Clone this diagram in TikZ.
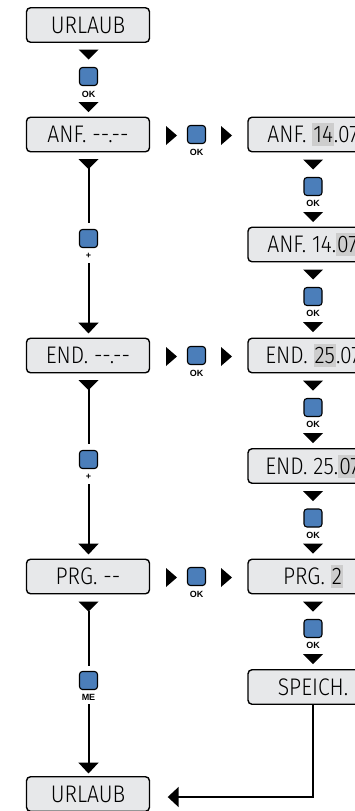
\documentclass[tikz,border=0pt]{standalone}
\usepackage{fontspec}
\newfontfamily\lcdfont{Fira Sans Light}[FakeStretch=0.88]
\newfontfamily\btnfont{Liberation Sans}
\usetikzlibrary{calc,arrows.meta}
\definecolor{lcdgray}{HTML}{E7E8EA}
\definecolor{hlgray}{HTML}{CDCDCD}
\definecolor{btnblue}{HTML}{4B7EBA}
\newcommand\hlt[1]{{\setlength{\fboxsep}{0pt}\colorbox{hlgray}{\rule[-3.5pt]{0pt}{23pt}\kern1pt#1\kern1pt}}}
\begin{document}
\begin{tikzpicture}[x=1pt,y=-1pt,
  lcd/.style={draw=black, line width=1.4pt, fill=lcdgray, rounded corners=4pt,
    minimum width=123pt, minimum height=34.5pt, inner sep=0pt,
    font=\lcdfont\fontsize{24}{24}\selectfont},
  lcdr/.style={lcd, minimum width=130pt},
  btn/.style={draw=black, line width=1.1pt, fill=btnblue, rounded corners=3pt,
    minimum size=18pt, inner sep=0pt},
  btnlbl/.style={font=\btnfont\bfseries\fontsize{9}{9}\selectfont, inner sep=0pt},
  flow/.style={line width=2pt},
  flowarrow/.style={line width=2pt, -{Triangle[width=20pt,length=11pt]}},
  tridown/.pic={\fill (-10,0) -- (10,0) -- (0,10) -- cycle;},
  triright/.pic={\fill (0,-9.5) -- (11,0) -- (0,9.5) -- cycle;},
]
\useasboundingbox (0,0) rectangle (355,811);
\clip (0,0) rectangle (355,811);

% ---------- left column ----------
\node[lcd] (u1) at (88,25) {URLAUB};
\pic at (88.5,49.5) {tridown};
\node[btn] (b1) at (88.5,76.5) {};
\node[btnlbl] (l1) at (88.5,94) {OK};
\pic at (88.5,102) {tridown};

\node[lcd] (anf) at (88,134.5) {ANF. --.--};
\pic at (88.5,159) {tridown};
\node[btn] (b2) at (88.5,238.5) {};
\node[btnlbl] (l2) at (88.5,255.5) {+};
\coordinate (t2) at (88.5,168);
\draw[flow] (t2) -- (b2.north |- 0,223);
\draw[flowarrow] (b2.south |- 0,263) -- (b2.south |- 0,333.5);

\node[lcd] (endl) at (88,355.5) {END. --.--};
\pic at (88.5,380) {tridown};
\node[btn] (b3) at (88.5,459.5) {};
\node[btnlbl] (l3) at (88.5,476.5) {+};
\coordinate (t3) at (88.5,389);
\draw[flow] (t3) -- (b3.north |- 0,444);
\draw[flowarrow] (b3.south |- 0,484) -- (b3.south |- 0,554.5);

\node[lcd] (prg) at (88,576.5) {PRG. --};
\pic at (88.5,601.5) {tridown};
\node[btn] (b4) at (88.5,680.5) {};
\node[btnlbl] (l4) at (88.5,697.5) {ME};
\coordinate (t4) at (88.5,611);
\draw[flow] (t4) -- (b4.north |- 0,666);
\draw[flowarrow] (b4.south |- 0,704) -- (b4.south |- 0,773.5);

\node[lcd] (u2) at (88,794) {URLAUB};

% ---------- horizontal rows ----------
\foreach \r/\n in {134.5/a, 355.5/b, 576.5/c}{
  \pic at (166,\r+1) {triright};
  \node[btn] (h\n) at (196.5,\r) {};
  \node[btnlbl] (hl\n) at (196.5,\r+18) {OK};
  \pic at (221,\r+1) {triright};
}

% ---------- right column ----------
\node[lcdr] (r1) at (313,134.5) {ANF. \hlt{14}.07};
\node[lcdr] (r2) at (313,244.5) {ANF. 14.\hlt{07}};
\node[lcdr] (r3) at (313,355.5) {END. \hlt{25}.07};
\node[lcdr] (r4) at (313,466) {END. 25.\hlt{07}};
\node[lcdr] (r5) at (313,576.5) {PRG. \hlt{2}};
\node[lcdr] (r6) at (313,687) {SPEICH.};

\foreach \B/\n in {152/1, 262/2, 373/3, 483.5/4, 594/5}{
  \pic at (313,\B+7.5) {tridown};
  \node[btn] (rb\n) at (313,\B+34.5) {};
  \node[btnlbl] (rl\n) at (313,\B+51.5) {OK};
  \pic at (313,\B+60) {tridown};
}

\coordinate (corner) at (r6.south |- 0,797);
\draw[flow, -{Triangle[width=20pt,length=11pt]}]
  (r6.south) -- (corner) -- ($(u2.east |- corner)+(17.5,0)$);
\end{tikzpicture}
\end{document}
